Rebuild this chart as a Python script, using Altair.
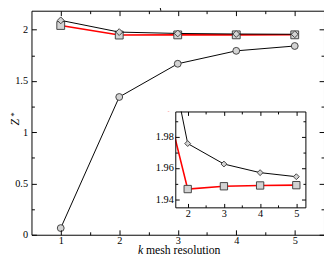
import altair as alt
import pandas as pd

# ---- data ----
k_values = [1, 2, 3, 4, 5]
z_circle = [0.065, 1.343, 1.667, 1.793, 1.84]
z_diamond = [2.09, 1.9756, 1.9625, 1.957, 1.9544]
z_square = [2.04, 1.9465, 1.9483, 1.9488, 1.949]

main_x_ticks = [1, 2, 3, 4, 5]
main_x_minor = [1.5, 2.5, 3.5, 4.5]
main_y_ticks = [0, 0.5, 1, 1.5, 2]
main_y_minor = [0.25, 0.75, 1.25, 1.75]
inset_x_ticks = [2, 3, 4, 5]
inset_x_minor = [2.5, 3.5, 4.5]
inset_y_ticks = [1.94, 1.96, 1.98]
inset_y_minor = [1.95, 1.97, 1.99]

main_x_domain = [0.5, 5.5]
main_y_domain = [0, 2.184]
inset_x_domain = [1.657, 5.251]
inset_y_domain = [1.9348, 1.9961]

# ---- layout (pixels) ----
W, H = 299, 229
IX0, IX1, IY0, IY1 = 147, 280, 103, 201
FONT = "Liberation Serif, Times New Roman, serif"
FILL = "#d3d3d3"
EDGE = "#444444"

df_circle = pd.DataFrame({"k": k_values, "z": z_circle})
df_diamond = pd.DataFrame({"k": k_values, "z": z_diamond})
df_square = pd.DataFrame({"k": k_values, "z": z_square})
one = pd.DataFrame({"a": [0]})

mx = alt.Scale(domain=main_x_domain, nice=False, zero=False)
my = alt.Scale(domain=main_y_domain, nice=False, zero=False)
ix = alt.Scale(domain=inset_x_domain, range=[IX0, IX1], nice=False, zero=False)
iy = alt.Scale(domain=inset_y_domain, range=[IY1, IY0], nice=False, zero=False)


def ax(orient, offset, values, size=0, labels=False, domain=False, pad=2, fs=10.5):
    kw = dict(orient=orient, offset=offset, values=values, grid=False, title=None,
              zindex=1, labels=labels, domain=domain, domainColor="black", domainWidth=1)
    if size > 0:
        kw.update(ticks=True, tickSize=size, tickColor="black", tickWidth=1)
    else:
        kw.update(ticks=False, tickSize=0)
    if labels:
        kw.update(labelFont=FONT, labelFontSize=fs, labelColor="black", labelPadding=pad,
                  format="~g", labelFlush=False, labelOverlap=False)
    return alt.Axis(**kw)


def axes_layer(xs, ys, xaxis, yaxis):
    return alt.Chart(df_circle).mark_point(opacity=0).encode(
        x=alt.X("k:Q", scale=xs, axis=xaxis),
        y=alt.Y("z:Q", scale=ys, axis=yaxis),
    )


def series(df, xs, ys, shape, size, color, width):
    return alt.Chart(df).mark_line(
        color=color, strokeWidth=width,
        point=alt.OverlayMarkDef(shape=shape, size=size, filled=True, fill=FILL,
                                 stroke=EDGE, strokeWidth=1, opacity=1),
    ).encode(
        x=alt.X("k:Q", scale=xs, axis=None),
        y=alt.Y("z:Q", scale=ys, axis=None),
    )


# inset content (drawn first, overflow covered by white panels)
inset_sq = series(df_square, ix, iy, "square", 56, "#ff0000", 1.6)
inset_di = series(df_diamond, ix, iy, "diamond", 36, "black", 1)

cover_top = alt.Chart(one).mark_rect(fill="white", strokeWidth=0).encode(
    x=alt.value(0), x2=alt.value(W), y=alt.value(0), y2=alt.value(IY0))
cover_left = alt.Chart(one).mark_rect(fill="white", strokeWidth=0).encode(
    x=alt.value(0), x2=alt.value(IX0), y=alt.value(IY0), y2=alt.value(IY1))

# main content
main_ci = series(df_circle, mx, my, "circle", 49, "black", 1)
main_sq = series(df_square, mx, my, "square", 64, "#ff0000", 1.6)
main_di = series(df_diamond, mx, my, "diamond", 49, "black", 1)

# main axes: labels, inward major ticks + frame, inward minor ticks
m_lab = axes_layer(mx, my, ax("bottom", 0, main_x_ticks, labels=True, pad=1),
                   ax("left", 0, main_y_ticks, labels=True, pad=4))
m_maj1 = axes_layer(mx, my, ax("top", -H, main_x_ticks, 5, domain=True),
                    ax("right", -W, main_y_ticks, 5, domain=True))
m_maj2 = axes_layer(mx, my, ax("bottom", -H, main_x_ticks, 5, domain=True),
                    ax("left", -W, main_y_ticks, 5, domain=True))
m_min1 = axes_layer(mx, my, ax("top", -H, main_x_minor, 3),
                    ax("right", -W, main_y_minor, 3))
m_min2 = axes_layer(mx, my, ax("bottom", -H, main_x_minor, 3),
                    ax("left", -W, main_y_minor, 3))

# inset axes
i_lab = axes_layer(ix, iy, ax("bottom", -(H - IY1), inset_x_ticks, labels=True, pad=1),
                   ax("left", -IX0, inset_y_ticks, labels=True, pad=2))
i_maj1 = axes_layer(ix, iy, ax("top", -IY1, inset_x_ticks, 4, domain=True),
                    ax("right", -(W - IX0), inset_y_ticks, 4, domain=True))
i_maj2 = axes_layer(ix, iy, ax("bottom", -(H - IY0), inset_x_ticks, 4, domain=True),
                    ax("left", -IX1, inset_y_ticks, 4, domain=True))
i_min1 = axes_layer(ix, iy, ax("top", -IY1, inset_x_minor, 2.5),
                    ax("right", -(W - IX0), inset_y_minor, 2.5))
i_min2 = axes_layer(ix, iy, ax("bottom", -(H - IY0), inset_x_minor, 2.5),
                    ax("left", -IX1, inset_y_minor, 2.5))

# axis titles
t_k = alt.Chart(one).mark_text(text="k", font=FONT, fontStyle="italic", fontSize=12,
                               align="left", baseline="alphabetic", color="black").encode(
    x=alt.value(109), y=alt.value(249))
t_mesh = alt.Chart(one).mark_text(text="mesh resolution", font=FONT, fontSize=12,
                                  align="left", baseline="alphabetic", color="black").encode(
    x=alt.value(117), y=alt.value(249))
t_z = alt.Chart(one).mark_text(text="Z", font=FONT, fontStyle="italic", fontSize=12,
                               align="center", baseline="alphabetic", angle=270,
                               color="black").encode(x=alt.value(-13), y=alt.value(114))
t_star = alt.Chart(one).mark_text(text="*", font=FONT, fontSize=9,
                                  align="center", baseline="alphabetic", angle=270,
                                  color="black").encode(x=alt.value(-15), y=alt.value(106))

chart = alt.layer(
    inset_sq, inset_di, cover_top, cover_left,
    main_ci, main_sq, main_di,
    m_lab, m_maj1, m_maj2, m_min1, m_min2,
    i_lab, i_maj1, i_maj2, i_min1, i_min2,
    t_k, t_mesh, t_z, t_star,
).resolve_scale(x="independent", y="independent").properties(
    width=W, height=H, autosize="none",
    padding={"left": 24, "top": 0, "right": 0, "bottom": 22},
    background="white",
).configure_view(stroke=None)

chart.save("out.html", embed_options={"renderer": "svg", "actions": False})
